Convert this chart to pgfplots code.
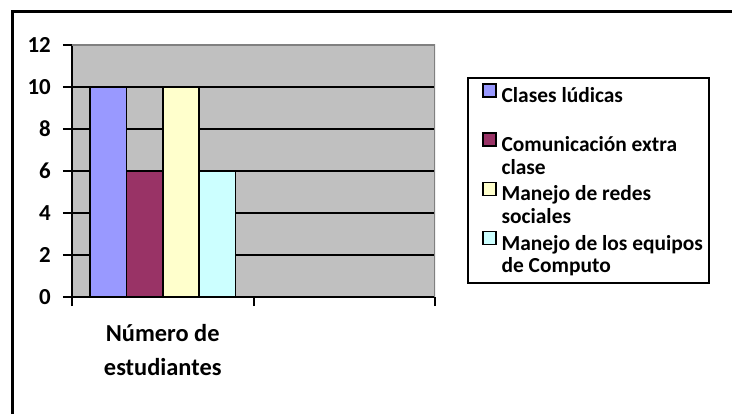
\documentclass[border=0pt]{standalone}
\usepackage{pgfplots}
\pgfplotsset{compat=1.18}
\usepackage{fontspec}
\setmainfont{Carlito}
\definecolor{cBlue}{RGB}{153,153,255}
\definecolor{cMaroon}{RGB}{153,51,102}
\definecolor{cYellow}{RGB}{255,255,204}
\definecolor{cCyan}{RGB}{204,255,255}
\definecolor{plotgray}{RGB}{192,192,192}
\definecolor{bordergray}{RGB}{128,128,128}
\pgfplotsset{myleg/.style={legend image code/.code={\path (0bp,0bp); \draw[##1,line width=1.6bp] (8bp,0.3bp) rectangle (21bp,13.3bp);}}}
\begin{document}
\begin{tikzpicture}[x=1bp,y=1bp]
\path[use as bounding box] (0,0) rectangle (732,414);
\draw[line width=3bp] (12,0) -- (12,402) -- (732,402);
\begin{axis}[
  at={(72bp,117bp)}, anchor=south west,
  scale only axis, width=363bp, height=252bp,
  xmin=-0.5, xmax=1.5, ymin=0, ymax=12,
  ybar=0pt, bar width=0.2,
  axis background/.style={fill=plotgray},
  axis x line*=bottom, axis y line*=left,
  axis line style={line width=2bp, black, -},
  ymajorgrids, grid style={black, line width=2bp},
  ytick={0,2,...,12},
  xtick={-0.5,0.5,1.5}, xticklabels={},
  tick align=outside, major tick length=9bp,
  tick style={black, line width=2bp},
  /pgf/number format/assume math mode=true,
  yticklabel style={font=\bfseries\fontsize{23}{26}\selectfont, inner sep=2bp, xshift=-10bp},
  extra x ticks={0},
  extra x tick labels={Número de\\estudiantes},
  extra x tick style={major tick length=0pt, grid=none,
    xticklabel style={align=center, font=\bfseries\fontsize{24.5}{34}\selectfont, yshift=-24bp}},
  legend style={at={(1.0882,0.873)}, anchor=north west,
    draw=black, line width=2bp,
    inner xsep=6bp, inner ysep=5bp,
    font=\bfseries\fontsize{21.5}{26}\selectfont,
    nodes={inner sep=0pt, text height=15.5bp, text depth=5bp},
    row sep=2.2bp, column sep=5bp},
  legend cell align=left,
]
\addplot[fill=cBlue, draw=black, line width=1.6bp, myleg] coordinates {(0,10)};
\addlegendentry{Clases lúdicas}
\addlegendimage{empty legend}
\addlegendentry{}
\addplot[fill=cMaroon, draw=black, line width=1.6bp, myleg] coordinates {(0,6)};
\addlegendentry{Comunicación extra}
\addlegendimage{empty legend}
\addlegendentry{clase}
\addplot[fill=cYellow, draw=black, line width=1.6bp, myleg] coordinates {(0,10)};
\addlegendentry{Manejo de redes}
\addlegendimage{empty legend}
\addlegendentry{sociales}
\addplot[fill=cCyan, draw=black, line width=1.6bp, myleg] coordinates {(0,6)};
\addlegendentry{Manejo de los equipos\hspace{6bp}}
\addlegendimage{empty legend}
\addlegendentry{de Computo}
\draw[bordergray, line width=2bp] (rel axis cs:0,1) -- (rel axis cs:1,1) -- (rel axis cs:1,0);
\end{axis}
\end{tikzpicture}
\end{document}
